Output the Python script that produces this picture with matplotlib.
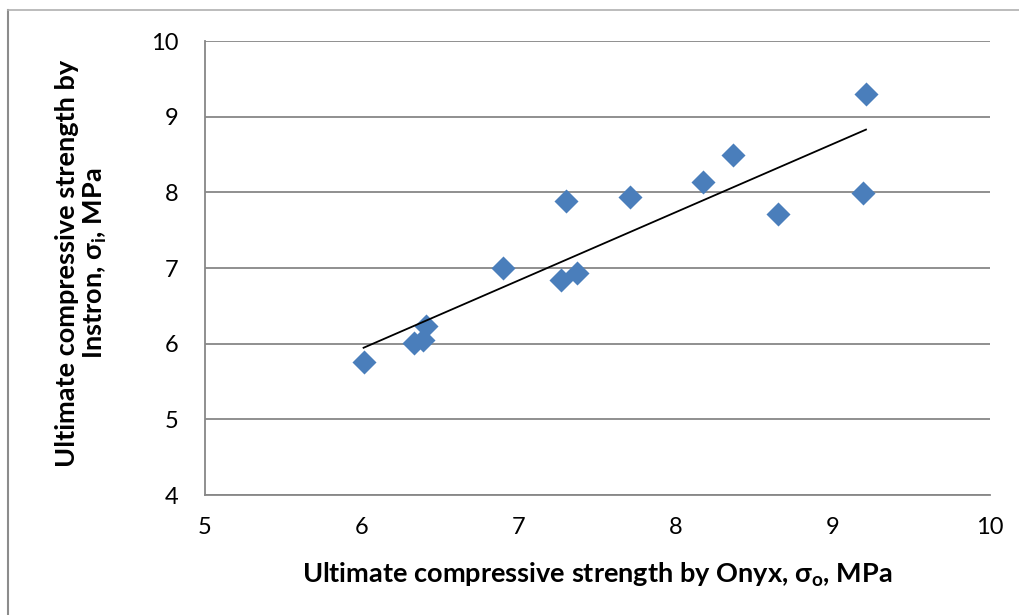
import numpy as np
import matplotlib.pyplot as plt
from matplotlib.lines import Line2D

plt.rcParams['font.family'] = ['Lato', 'DejaVu Sans']

# Onyx vs Instron ultimate compressive strength, MPa
onyx = [6.01, 6.33, 6.39, 6.41, 6.90, 7.27, 7.37, 7.30, 7.71, 8.17, 8.36, 8.65, 9.19, 9.21]
instron = [5.76, 6.01, 6.05, 6.24, 7.00, 6.84, 6.93, 7.88, 7.94, 8.13, 8.50, 7.71, 7.99, 9.30]

xticks = [5, 6, 7, 8, 9, 10]
yticks = [4, 5, 6, 7, 8, 9, 10]

fig = plt.figure(figsize=(10.19, 6.15), dpi=100)
ax = fig.add_axes([205 / 1019, 1 - 495 / 615, 785 / 1019, 454 / 615])

ax.scatter(onyx, instron, marker='D', s=150, color='#4A7EBB', zorder=3, linewidths=0)

# linear trendline
k, b = np.polyfit(onyx, instron, 1)
xl = np.array([min(onyx), max(onyx)])
ax.plot(xl, k * xl + b, color='black', lw=1.3, zorder=4)

ax.set_xlim(5, 10)
ax.set_ylim(4, 10)
ax.set_xticks(xticks)
ax.set_yticks(yticks)
ax.tick_params(length=0, labelsize=17)
ax.tick_params(axis='x', pad=16)
ax.tick_params(axis='y', pad=19)
ax.yaxis.grid(True, color='#878787', lw=1.3)
ax.set_axisbelow(True)
for s in ['top', 'right']:
    ax.spines[s].set_visible(False)
for s in ['left', 'bottom']:
    ax.spines[s].set_color('#878787')
    ax.spines[s].set_linewidth(1.3)

ax.set_xlabel(r'Ultimate compressive strength by Onyx, σ$_\mathregular{o}$, MPa',
              fontsize=19.5, fontweight='bold')
ax.set_ylabel('Ultimate compressive strength by\n' + r'Instron, σ$_\mathregular{i}$, MPa',
              fontsize=19.5, fontweight='bold', linespacing=1.15)
ax.xaxis.set_label_coords(0.4994, -0.145)
ax.yaxis.set_label_coords(-0.122, 0.51)

# outer chart frame (top and left edges visible)
fig.add_artist(Line2D([8 / 1019, 8 / 1019], [0, 1 - 10 / 615], color='#8c8c8c', lw=1.5))
fig.add_artist(Line2D([8 / 1019, 1], [1 - 10 / 615, 1 - 10 / 615], color='#b0b0b0', lw=1.2))

fig.savefig('out.png', dpi=100)
